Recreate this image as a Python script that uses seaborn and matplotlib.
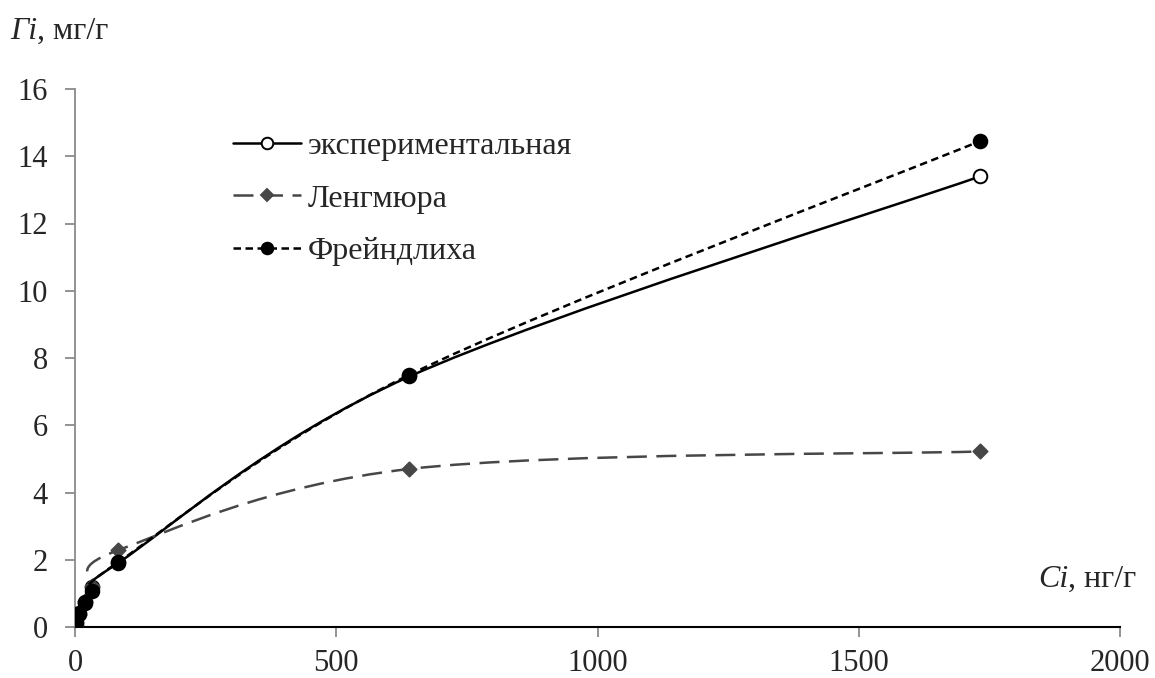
import numpy as np
import pandas as pd
import matplotlib
matplotlib.use("Agg")
import matplotlib.pyplot as plt
import seaborn as sns
from matplotlib.path import Path
from matplotlib.patches import PathPatch
from matplotlib.lines import Line2D

# ---- data ----
conc = [1, 8, 19, 33, 82, 640, 1732]
experimental = [0.15, 0.40, 0.72, 1.20, 1.90, 7.45, 13.40]
langmuir = [0.05, 0.36, 0.78, 1.23, 2.28, 4.70, 5.22]
freundlich = [0.11, 0.42, 0.74, 1.06, 1.92, 7.50, 14.45]
series_names = ["экспериментальная", "Ленгмюра", "Фрейндлиха"]
x_ticks = [0, 500, 1000, 1500, 2000]
y_ticks = [0, 2, 4, 6, 8, 10, 12, 14, 16]

sns.set_theme(style="white")
plt.rcParams["font.family"] = ["Liberation Serif", "DejaVu Serif"]

fig = plt.figure(figsize=(11.55, 6.78), dpi=100)
ax = fig.add_axes([75 / 1155, 1 - 627 / 678, 1045 / 1155, 538 / 678])

df = pd.DataFrame({"C": conc * 3,
                   "G": experimental + langmuir + freundlich,
                   "s": [series_names[0]] * len(conc) + [series_names[1]] * len(conc)
                        + [series_names[2]] * len(conc)})


def smooth_path(xs, ys):
    """Excel-style smoothed line: cubic Bezier through the data points."""
    p = np.column_stack([xs, ys]).astype(float)
    verts = [p[0]]
    codes = [Path.MOVETO]
    n = len(p)
    for i in range(n - 1):
        p0 = p[i - 1] if i > 0 else p[i]
        p1, p2 = p[i], p[i + 1]
        p3 = p[i + 2] if i + 2 < n else p[i + 1]
        verts += [p1 + (p2 - p0) / 6.0, p2 - (p3 - p1) / 6.0, p2]
        codes += [Path.CURVE4] * 3
    return Path(verts, codes)


gray = "#474747"
styles = {
    series_names[0]: dict(color="black", lw=1.8, ls="-", marker="o", mfc="white", mec="black", ms=9.8),
    series_names[1]: dict(color=gray, lw=1.8, ls=(0, (8, 3.8)), marker="D", mfc=gray, mec=gray, ms=7.2),
    series_names[2]: dict(color="black", lw=1.8, ls=(0, (3.0, 1.8)), marker="o", mfc="black", mec="black", ms=9.8),
}
ys_map = {series_names[0]: experimental, series_names[1]: langmuir, series_names[2]: freundlich}

z = 2
for name in series_names:
    st = styles[name]
    patch = PathPatch(smooth_path(conc, ys_map[name]), facecolor="none", edgecolor=st["color"],
                      lw=st["lw"], ls=st["ls"], zorder=z, capstyle="butt")
    ax.add_patch(patch)
    sub = df[df["s"] == name]
    sns.scatterplot(data=sub, x="C", y="G", ax=ax, marker=st["marker"], s=st["ms"] ** 2,
                    color=st["mfc"], edgecolor=st["mec"], linewidth=1.4, zorder=z + 1, legend=False)
    z += 2

ax.set_xlim(0, 2000)
ax.set_ylim(0, 16)
ax.set_xticks(x_ticks)
ax.set_yticks(y_ticks)
ax.set_xlabel("")
ax.set_ylabel("")
ax.tick_params(axis="both", which="major", labelsize=22, direction="out", length=7.5,
               width=1.2, color="#808080", bottom=True, left=True)
ax.tick_params(axis="x", pad=8)
ax.tick_params(axis="y", pad=12)
for sp in ["top", "right"]:
    ax.spines[sp].set_visible(False)
ax.spines["left"].set_color("#8a8a8a")
ax.spines["left"].set_linewidth(1.3)
ax.spines["bottom"].set_color("black")
ax.spines["bottom"].set_linewidth(1.5)
ax.spines["bottom"].set_zorder(1)

handles = []
for name in series_names:
    st = styles[name]
    handles.append(Line2D([], [], color=st["color"], lw=st["lw"], ls=st["ls"], marker=st["marker"],
                          markerfacecolor=st["mfc"], markeredgecolor=st["mec"],
                          markersize=st["ms"] * 0.85, markeredgewidth=1.4))
leg = ax.legend(handles, series_names, loc="upper left", bbox_to_anchor=(0.139, 0.944),
                frameon=False, fontsize=23, handlelength=2.13, handletextpad=0.22,
                labelspacing=0.72, borderaxespad=0)

t1 = fig.text(10 / 1155, 1 - 46 / 678, "Гi", fontsize=23, fontstyle="italic", ha="left", va="bottom")
ax.annotate(", мг/г", xy=(1, 0), xycoords=t1, ha="left", va="bottom", fontsize=23)

t2 = fig.text(1038 / 1155, 1 - 594 / 678, "Ci", fontsize=23, fontstyle="italic", ha="left", va="bottom")
ax.annotate(", нг/г", xy=(1, 0), xycoords=t2, ha="left", va="bottom", fontsize=23)

fig.savefig("out.png", dpi=100, facecolor="white")
